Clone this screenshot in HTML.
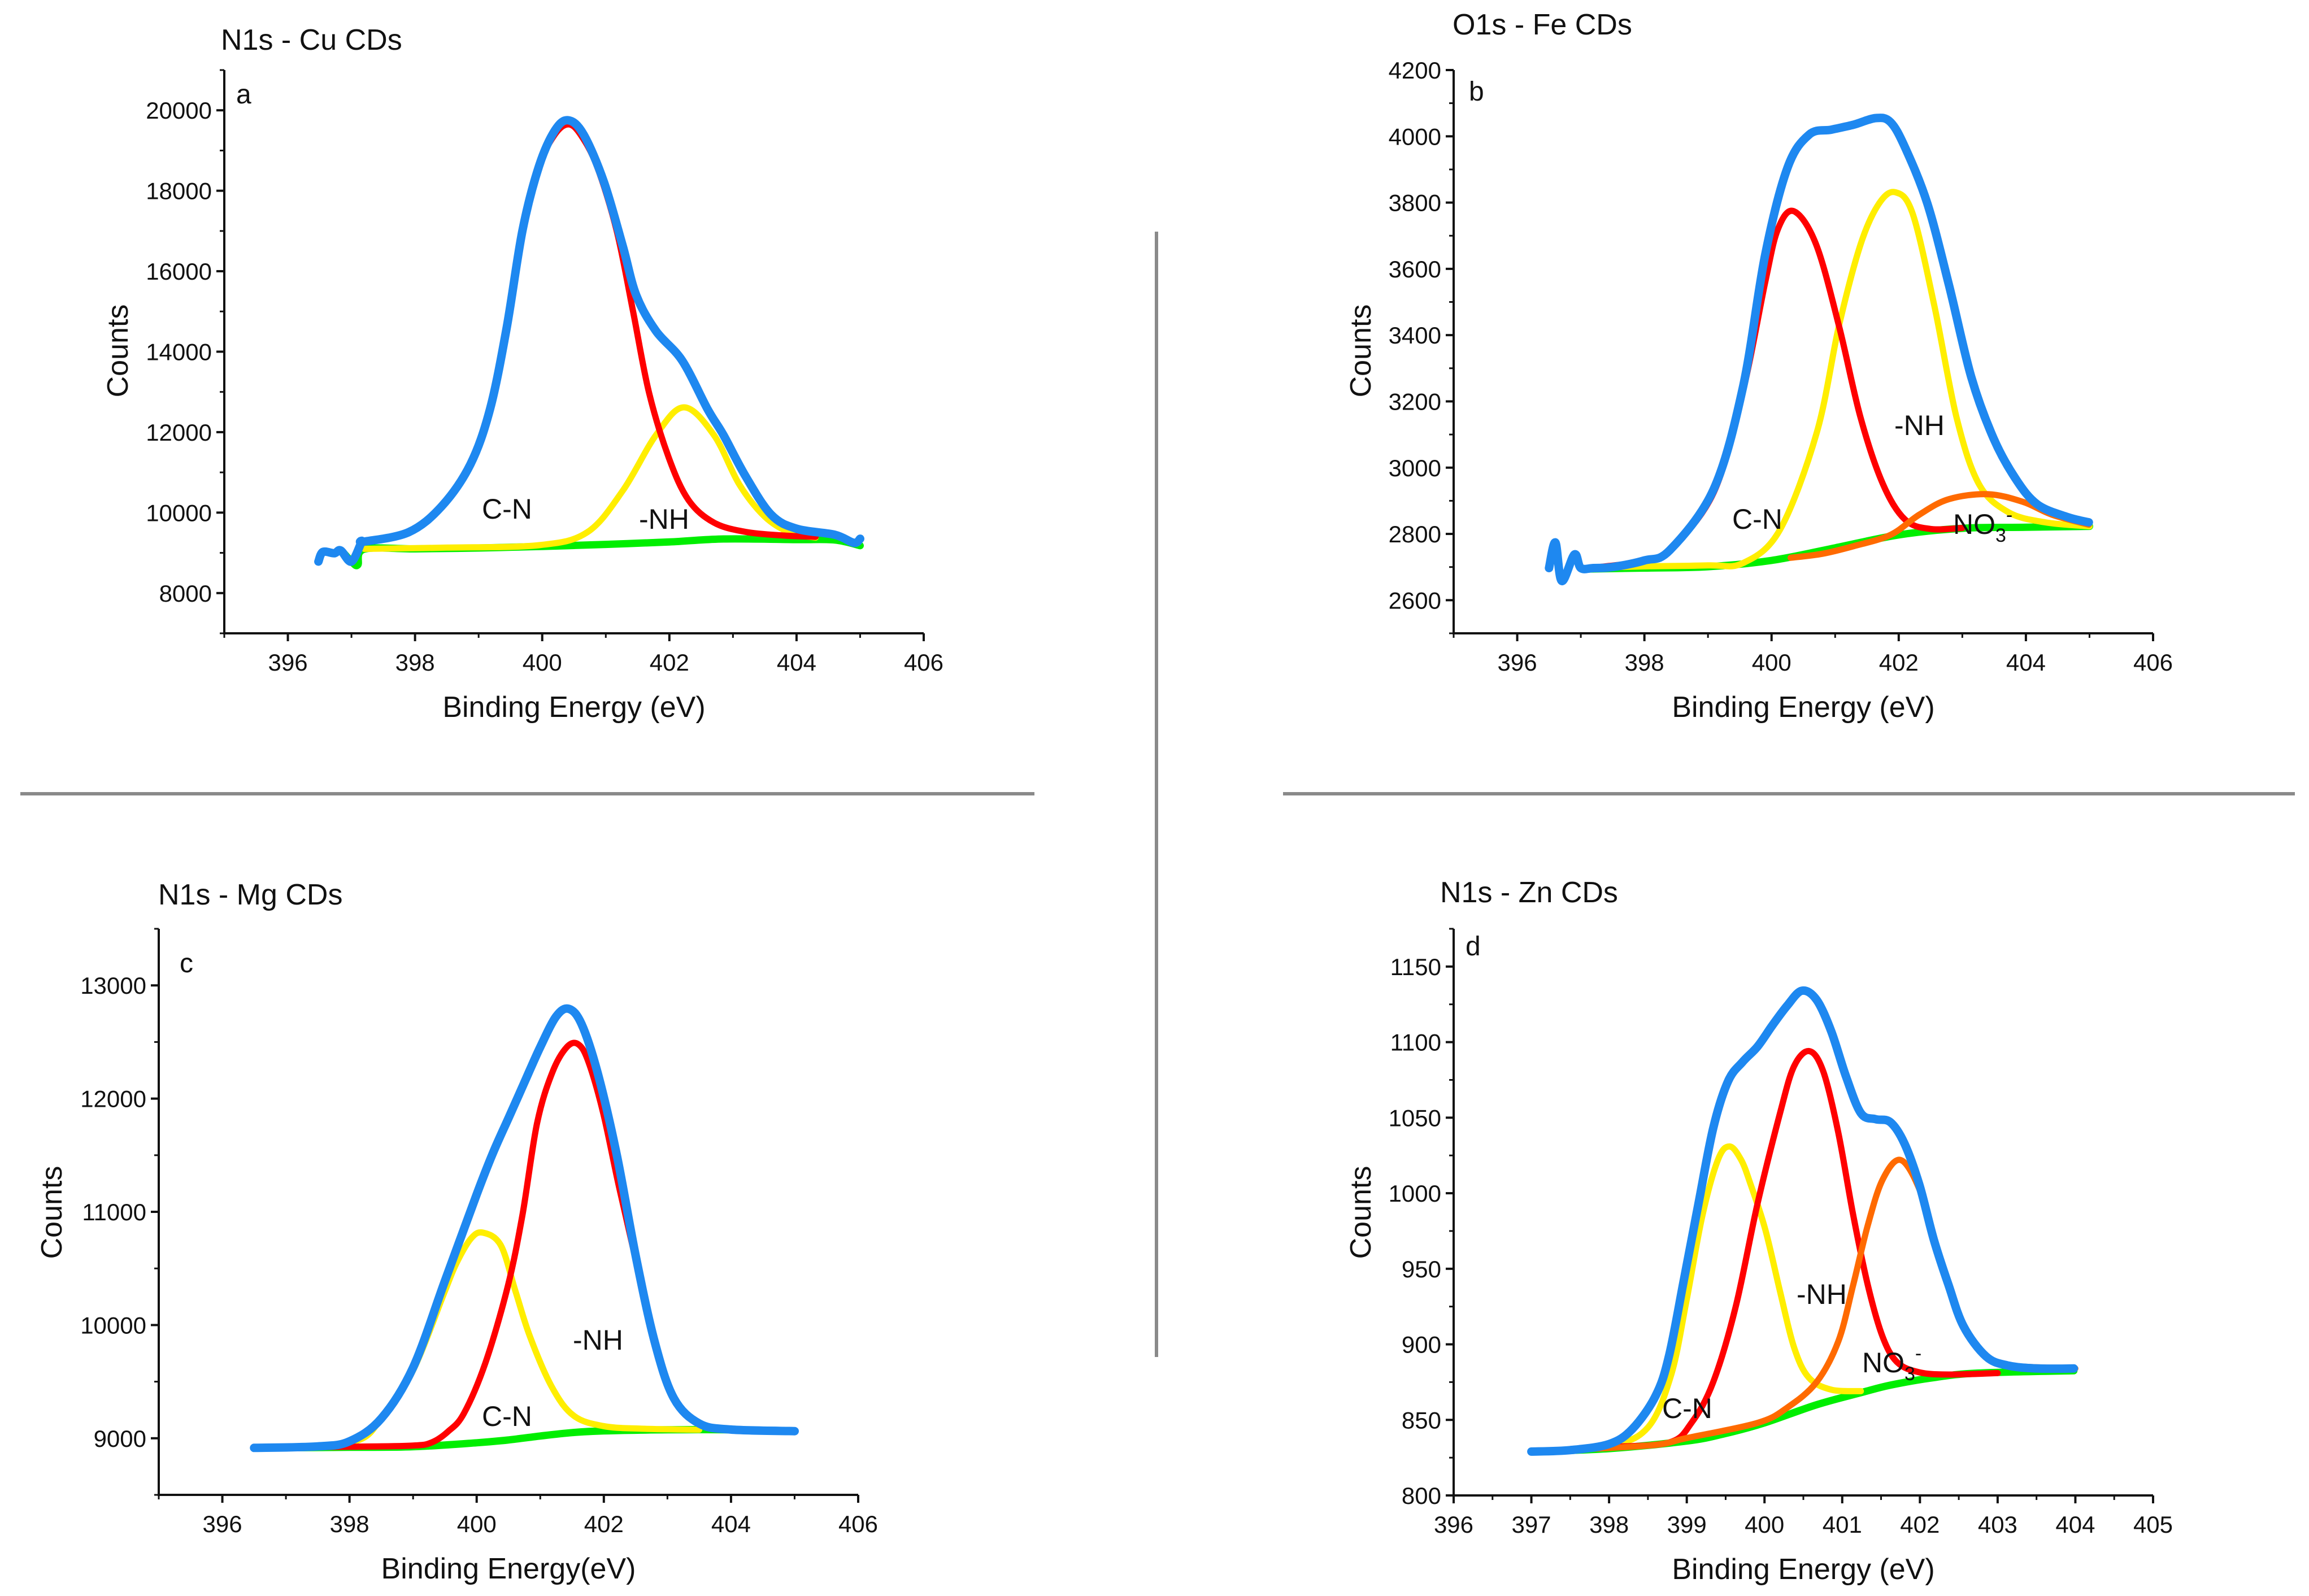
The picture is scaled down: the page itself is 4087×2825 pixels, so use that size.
<!DOCTYPE html>
<html><head><meta charset="utf-8"><style>
html,body{margin:0;padding:0;background:#fff;}
svg{display:block;font-family:"Liberation Sans",Arial,sans-serif;}
</style></head><body>
<svg id="fig" width="4087" height="2825" viewBox="0 0 4087 2825" xmlns="http://www.w3.org/2000/svg">
<rect x="0" y="0" width="4087" height="2825" fill="#fff"/>
<line x1="2047" y1="410" x2="2047" y2="2402" stroke="#8a8a8a" stroke-width="6"/>
<line x1="36" y1="1405" x2="1831" y2="1405" stroke="#8a8a8a" stroke-width="6"/>
<line x1="2271" y1="1405" x2="4062" y2="1405" stroke="#8a8a8a" stroke-width="6"/>
</svg>
<script>
// ---------- Panel a: N1s - Cu CDs ----------
const aXTicks=[396,398,400,402,404,406];
const aYTicks=[8000,10000,12000,14000,16000,18000,20000];
const aGreenX=[396.48,396.55,396.73,396.83,397.0,397.1,397.2,398,399,400,401,402,402.85,404,404.6,405];
const aGreenY=[8783,9022,8990,9060,8783,8700,9092,9100,9120,9160,9210,9270,9345,9330,9320,9180];
const aYellowX=[397.2,398.5,399.95,400.71,401.27,401.79,402.23,402.7,403.1,403.5,403.9,404.3];
const aYellowY=[9100,9130,9191,9514,10553,11929,12617,11929,10700,9900,9500,9380];
const aRedX=[397.19,397.9,398.42,398.87,399.18,399.44,399.69,399.95,400.2,400.41,400.6,400.86,401.17,401.43,401.68,401.99,402.3,402.7,403.2,403.8,404.3];
const aRedY=[9275,9514,10160,11199,12575,14583,17013,18613,19400,19650,19400,18613,17013,14990,12982,11367,10314,9752,9520,9430,9400];
const aBlueX=[396.48,396.55,396.73,396.83,397.0,397.16,397.19,397.9,398.42,398.87,399.18,399.44,399.69,399.95,400.2,400.41,400.65,400.97,401.27,401.48,401.79,402.2,402.6,402.85,403.2,403.6,404.0,404.6,404.9,405];
const aBlueY=[8783,9022,8990,9060,8783,9270,9275,9514,10160,11199,12575,14583,17013,18613,19500,19751,19400,18220,16605,15398,14513,13783,12575,11929,10900,9950,9600,9450,9250,9350];
// ---------- Panel b: O1s - Fe CDs ----------
const bXTicks=[396,398,400,402,404,406];
const bYTicks=[2600,2800,3000,3200,3400,3600,3800,4000,4200];
const bGreenX=[397.1,398,399,400,401,402,403,404,405];
const bGreenY=[2694,2697,2701,2720,2758,2797,2817,2820,2823];
const bYellowX=[397.1,398,399,399.55,400.13,400.71,401.06,401.4,401.69,401.95,402.22,402.56,402.91,403.26,403.72,404.3,405];
const bYellowY=[2697,2702,2705,2712,2812,3105,3428,3674,3797,3831,3766,3489,3151,2951,2866,2835,2823];
const bRedX=[397.2,398,398.4,399.09,399.55,399.9,400.1,400.35,400.7,401.06,401.4,401.75,402.1,402.5,403];
const bRedY=[2698,2718,2751,2925,3230,3560,3720,3774,3674,3428,3151,2951,2843,2815,2818];
const bOrangeX=[400.3,400.8,401.29,401.87,402.33,402.79,403.4,403.95,404.41,404.99];
const bOrangeY=[2728,2740,2763,2797,2859,2905,2920,2897,2858,2828];
const bBlueX=[396.5,396.6,396.7,396.9,397.0,397.2,397.5,398,398.4,399.09,399.55,399.9,400.25,400.59,400.94,401.29,401.64,401.87,402.1,402.45,402.79,403.14,403.49,403.84,404.18,404.65,404.99];
const bBlueY=[2697,2774,2658,2738,2697,2697,2700,2720,2751,2935,3243,3643,3905,4005,4020,4035,4055,4043,3966,3797,3551,3274,3089,2966,2889,2851,2835];
// ---------- Panel c: N1s - Mg CDs ----------
const cXTicks=[396,398,400,402,404,406];
const cYTicks=[9000,10000,11000,12000,13000];
const cGreenX=[396.5,398,399,400,400.5,401,401.5,402,403,404,405];
const cGreenY=[8915,8920,8925,8960,8985,9020,9050,9065,9075,9075,9065];
const cYellowX=[396.5,398,398.5,399,399.5,399.68,399.91,400.1,400.38,400.61,400.84,401.19,401.53,401.99,402.57,403.5];
const cYellowY=[8915,8960,9170,9600,10300,10544,10764,10816,10704,10299,9895,9445,9198,9108,9085,9075];
const cRedX=[396.5,398,399,399.3,399.55,399.8,400.14,400.49,400.72,400.95,401.19,401.42,401.6,401.76,401.99,402.23,402.5,402.8,403.1,403.5,404];
const cRedY=[8915,8925,8935,8965,9060,9220,9670,10344,10973,11782,12232,12456,12479,12321,11872,11243,10580,9830,9340,9120,9077];
const cBlueX=[396.5,397.5,398,398.5,399,399.5,400,400.25,400.5,400.75,401,401.25,401.45,401.65,401.9,402.2,402.5,402.8,403.1,403.5,404,405];
const cBlueY=[8915,8928,8973,9175,9625,10389,11153,11512,11827,12142,12456,12726,12793,12658,12232,11512,10614,9850,9355,9130,9077,9063];
// ---------- Panel d: N1s - Zn CDs ----------
const dXTicks=[396,397,398,399,400,401,402,403,404,405];
const dYTicks=[800,850,900,950,1000,1050,1100,1150];
const dGreenX=[397,398,399,399.5,400,400.67,401.24,401.62,402.18,402.75,403.98];
const dGreenY=[829,831,836,841,848,860,868,873,878,881,882.5];
const dYellowX=[397,398,398.5,398.8,399.0,399.2,399.4,399.55,399.7,399.82,400.01,400.2,400.38,400.57,400.86,401.24];
const dYellowY=[829,833,845,880,930,985,1022,1031,1022,1006,976,935,898,878,870,869];
const dRedX=[397,398,398.77,399.06,399.34,399.63,399.91,400.2,400.38,400.58,400.76,400.95,401.14,401.33,401.52,401.71,401.99,402.37,403];
const dRedY=[829,832,835,848,875,925,993,1053,1084,1094,1080,1040,986,939,905,888,881.5,880,881];
const dOrangeX=[397,398.5,399,399.91,400.29,400.67,400.95,401.14,401.33,401.52,401.75,401.99,402.18,402.37,402.56,402.85,403.13,404];
const dOrangeY=[829,833,838,848,858,875,902,939,979,1009,1022,1003,969,939,912,892,886,884];
const dBlueX=[397,397.5,398,398.3,398.6,398.77,398.96,399.15,399.34,399.53,399.72,399.91,400.1,400.29,400.48,400.67,400.86,401.05,401.24,401.43,401.62,401.8,401.99,402.18,402.37,402.56,402.85,403.13,403.51,403.98];
const dBlueY=[829,830,834,844,866,892,942,993,1043,1074,1087,1097,1111,1124,1134,1128,1107,1077,1053,1049,1047,1033,1006,969,939,912,892,886,884,884];

const NS='http://www.w3.org/2000/svg';
const svg=document.getElementById('fig');
function mk(tag,attrs,parent){const e=document.createElementNS(NS,tag);for(const k in attrs)e.setAttribute(k,attrs[k]);(parent||svg).appendChild(e);return e;}

function catmull(pts){
  let d='M'+pts[0][0].toFixed(1)+','+pts[0][1].toFixed(1);
  for(let i=0;i<pts.length-1;i++){
    const p0=pts[i-1]||pts[i],p1=pts[i],p2=pts[i+1],p3=pts[i+2]||pts[i+1];
    const c1=[p1[0]+(p2[0]-p0[0])/6,p1[1]+(p2[1]-p0[1])/6];
    const c2=[p2[0]-(p3[0]-p1[0])/6,p2[1]-(p3[1]-p1[1])/6];
    d+=' C'+c1[0].toFixed(1)+','+c1[1].toFixed(1)+' '+c2[0].toFixed(1)+','+c2[1].toFixed(1)+' '+p2[0].toFixed(1)+','+p2[1].toFixed(1);
  }
  return d;
}

function panel(cfg){
  const g=mk('g',{});
  
  
  const sx=v=>cfg.x0+(v-cfg.xmin)/(cfg.xmax-cfg.xmin)*(cfg.x1-cfg.x0);
  const sy=v=>cfg.yb+(v-cfg.ymin)/(cfg.ymax-cfg.ymin)*(cfg.yt-cfg.yb);
  const ax=mk('path',{d:'M'+cfg.x0+','+cfg.yt+' L'+cfg.x0+','+cfg.yb+' L'+cfg.x1+','+cfg.yb,fill:'none',stroke:'#111','stroke-width':4},g);
  
  
  for(let v=cfg.xmin;v<=cfg.xmax+1e-9;v+=cfg.xMinor){
    const t=mk('line',{x1:sx(v),x2:sx(v),y1:cfg.yb,y2:cfg.yb+8,stroke:'#111','stroke-width':3},g);
    
    
  }
  cfg.xTicks.forEach(v=>{
    const t=mk('line',{x1:sx(v),x2:sx(v),y1:cfg.yb,y2:cfg.yb+14,stroke:'#111','stroke-width':4},g);
    
    
    const l=mk('text',{x:sx(v),y:cfg.yb+66,'text-anchor':'middle','font-size':42,fill:'#111'},g);
    l.textContent=v;
    
    
  });
  for(let v=cfg.yMinorStart;v<=cfg.ymax+1e-9;v+=cfg.yMinor){
    const t=mk('line',{x1:cfg.x0-8,x2:cfg.x0,y1:sy(v),y2:sy(v),stroke:'#111','stroke-width':3},g);
    
    
  }
  cfg.yTicks.forEach(v=>{
    const t=mk('line',{x1:cfg.x0-14,x2:cfg.x0,y1:sy(v),y2:sy(v),stroke:'#111','stroke-width':4},g);
    
    
    const l=mk('text',{x:cfg.x0-22,y:sy(v)+15,'text-anchor':'end','font-size':42,fill:'#111'},g);
    l.textContent=v;
    
    
  });
  const xt=mk('text',{x:(cfg.x0+cfg.x1)/2,y:cfg.yb+148,'text-anchor':'middle','font-size':52,fill:'#111'},g);
  xt.textContent=cfg.xTitle;
  
  
  const yt=mk('text',{x:0,y:0,'text-anchor':'middle','font-size':52,fill:'#111',transform:'translate('+(cfg.cx+18)+','+cfg.cy+') rotate(-90)'},g);
  yt.textContent='Counts';
  
  
  const ti=mk('text',{x:cfg.tx,y:cfg.ty+18,'font-size':52,fill:'#111'},g);
  ti.textContent=cfg.title;
  
  
  const le=mk('text',{x:cfg.lx,y:cfg.ly+16,'font-size':48,fill:'#111'},g);
  le.textContent=cfg.id;
  
  
  cfg.series.forEach(s=>{
    const pts=s.x.map((v,i)=>[sx(v),sy(s.y[i])]);
    const p=mk('path',{d:catmull(pts),fill:'none',stroke:s.color,'stroke-width':s.w,'stroke-linejoin':'round','stroke-linecap':'round'},g);
    
    
  });
  cfg.labels.forEach(L=>{
    const t=mk('text',{x:L.x,y:L.y+18,'font-size':50,fill:'#111'},g);
    
    
    if(L.no3){
      t.textContent='NO';
      const s1=mk('tspan',{'font-size':34,dy:14},t);s1.textContent='3';
      const s2=mk('tspan',{'font-size':34,dy:-36},t);s2.textContent='-';
    } else t.textContent=L.t;
  });
}

const BLUE='#1e88f0',RED='#ff0000',YEL='#ffee00',GRN='#00ee00',ORG='#ff6a00';
const WB=15,WC=11,WG=13;
panel({id:'a',x0:397,x1:1635,xmin:395,xmax:406,yb:1121,yt:124,ymin:7000,ymax:21000,xMinor:1,yMinor:1000,yMinorStart:7000,
 xTicks:aXTicks,yTicks:aYTicks,xTitle:'Binding Energy (eV)',cx:208,cy:621,title:'N1s - Cu CDs',tx:391,ty:70,lx:418,ly:167,
 series:[{name:'background-line',x:aGreenX,y:aGreenY,color:GRN,w:WG},{name:'nh-peak-line',x:aYellowX,y:aYellowY,color:YEL,w:WC},
  {name:'cn-peak-line',x:aRedX,y:aRedY,color:RED,w:WC},{name:'envelope-line',x:aBlueX,y:aBlueY,color:BLUE,w:WB}],
 labels:[{x:853,y:900,t:'C-N'},{x:1131,y:918,t:'-NH'}]});
panel({id:'b',x0:2573,x1:3811,xmin:395,xmax:406,yb:1121,yt:124,ymin:2500,ymax:4200,xMinor:1,yMinor:100,yMinorStart:2500,
 xTicks:bXTicks,yTicks:bYTicks,xTitle:'Binding Energy (eV)',cx:2408,cy:621,title:'O1s - Fe CDs',tx:2571,ty:43,lx:2600,ly:162,
 series:[{name:'background-line',x:bGreenX,y:bGreenY,color:GRN,w:WG},{name:'nh-peak-line',x:bYellowX,y:bYellowY,color:YEL,w:WC},
  {name:'cn-peak-line',x:bRedX,y:bRedY,color:RED,w:WC},{name:'no3-peak-line',x:bOrangeX,y:bOrangeY,color:ORG,w:WC},{name:'envelope-line',x:bBlueX,y:bBlueY,color:BLUE,w:WB}],
 labels:[{x:3066,y:918,t:'C-N'},{x:3353,y:752,t:'-NH'},{x:3457,y:927,no3:true}]});
panel({id:'c',x0:281,x1:1519,xmin:395,xmax:406,yb:2646,yt:1644,ymin:8500,ymax:13500,xMinor:1,yMinor:500,yMinorStart:8500,
 xTicks:cXTicks,yTicks:cYTicks,xTitle:'Binding Energy(eV)',cx:91,cy:2146,title:'N1s - Mg CDs',tx:280,ty:1583,lx:318,ly:1705,
 series:[{name:'background-line',x:cGreenX,y:cGreenY,color:GRN,w:WG},{name:'cn-peak-line',x:cYellowX,y:cYellowY,color:YEL,w:WC},
  {name:'nh-peak-line',x:cRedX,y:cRedY,color:RED,w:WC},{name:'envelope-line',x:cBlueX,y:cBlueY,color:BLUE,w:WB}],
 labels:[{x:853,y:2506,t:'C-N'},{x:1014,y:2371,t:'-NH'}]});
panel({id:'d',x0:2573,x1:3811,xmin:396,xmax:405,yb:2647,yt:1644,ymin:800,ymax:1175,xMinor:0.5,yMinor:25,yMinorStart:800,
 xTicks:dXTicks,yTicks:dYTicks,xTitle:'Binding Energy (eV)',cx:2408,cy:2146,title:'N1s - Zn CDs',tx:2549,ty:1579,lx:2594,ly:1675,
 series:[{name:'background-line',x:dGreenX,y:dGreenY,color:GRN,w:WG},{name:'cn-peak-line',x:dYellowX,y:dYellowY,color:YEL,w:WC},
  {name:'nh-peak-line',x:dRedX,y:dRedY,color:RED,w:WC},{name:'no3-peak-line',x:dOrangeX,y:dOrangeY,color:ORG,w:WC},{name:'envelope-line',x:dBlueX,y:dBlueY,color:BLUE,w:WB}],
 labels:[{x:2942,y:2492,t:'C-N'},{x:3180,y:2290,t:'-NH'},{x:3296,y:2411,no3:true}]});
</script>
</body></html>
